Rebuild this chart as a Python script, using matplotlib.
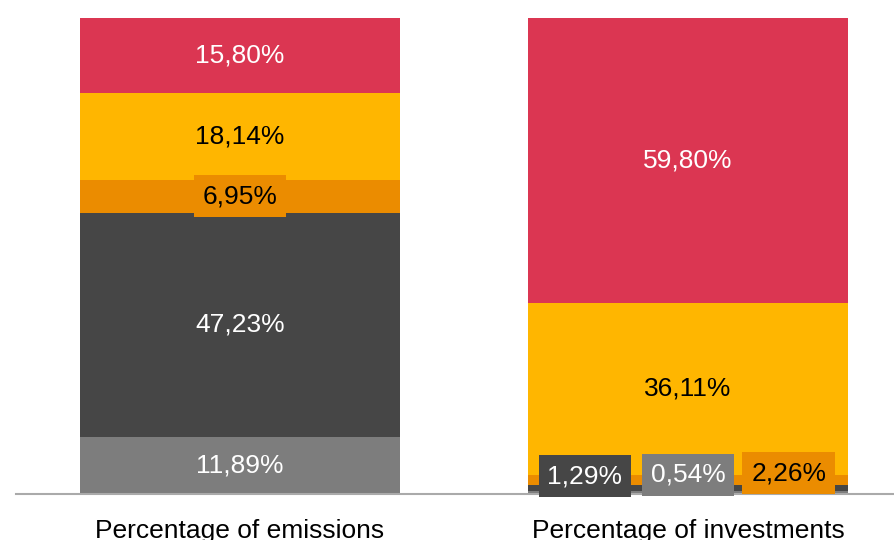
import matplotlib
matplotlib.use("Agg")
import matplotlib.pyplot as plt
import numpy as np

plt.rcParams['font.family'] = ['Liberation Sans', 'DejaVu Sans']

# shares per sector, bottom to top
categories = ['Percentage of emissions', 'Percentage of investments']
sectors = ['Other', 'Coal', 'Gas', 'Oil', 'Renewables']
emissions = [11.89, 47.23, 6.95, 18.14, 15.80]
investments = [0.54, 1.29, 2.26, 36.11, 59.80]
labels_em = ['11,89%', '47,23%', '6,95%', '18,14%', '15,80%']
labels_inv = ['0,54%', '1,29%', '2,26%', '36,11%', '59,80%']

colors = ['#7d7d7d', '#464646', '#eb8c00', '#ffb600', '#db3652']
text_colors = ['white', 'white', 'black', 'black', 'white']

fig = plt.figure(figsize=(8.95, 5.4), dpi=100)
ax = fig.add_axes([16/895, 46/540, 879/895, 476/540])

x = np.arange(len(categories))
width = 0.714
data = np.array([emissions, investments])
bottom = np.zeros(2)
for i in range(len(sectors)):
    ax.bar(x, data[:, i], width, bottom=bottom, color=colors[i], zorder=2)
    bottom += data[:, i]

fs = 19
# emissions labels centred in each segment
cum = np.cumsum([0] + emissions)
for i, lab in enumerate(labels_em):
    yc = (cum[i] + cum[i+1]) / 2
    box = None
    if emissions[i] < 8:
        box = dict(boxstyle='square,pad=0.34', fc=colors[i], ec='none')
    ax.text(x[0], yc, lab, ha='center', va='center', fontsize=fs,
            color=text_colors[i], bbox=box, zorder=3)

# investments: big ones centred, small ones in boxes along the base
cum = np.cumsum([0] + investments)
small_pos = {0: (0.0, 4.0), 1: (-0.23, 3.7), 2: (0.225, 4.4)}
for i, lab in enumerate(labels_inv):
    if i in small_pos:
        dx, yy = small_pos[i]
        ax.text(x[1] + dx, yy, lab, ha='center', va='center',
                fontsize=fs, color=text_colors[i],
                bbox=dict(boxstyle='square,pad=0.34', fc=colors[i], ec='none'),
                zorder=3)
    else:
        yc = (cum[i] + cum[i+1]) / 2
        ax.text(x[1], yc, lab, ha='center', va='center', fontsize=fs,
                color=text_colors[i], zorder=3)

ax.set_xlim(-0.5, 1.462)
ax.set_ylim(0, 100)
for s in ['top', 'right', 'left']:
    ax.spines[s].set_visible(False)
ax.spines['bottom'].set_color('#aaaaaa')
ax.spines['bottom'].set_linewidth(1.5)
ax.set_yticks([])
ax.set_xticks(x)
ax.set_xticklabels(categories, fontsize=fs)
ax.tick_params(axis='x', length=0, pad=18)

fig.savefig('out.png', dpi=100)
